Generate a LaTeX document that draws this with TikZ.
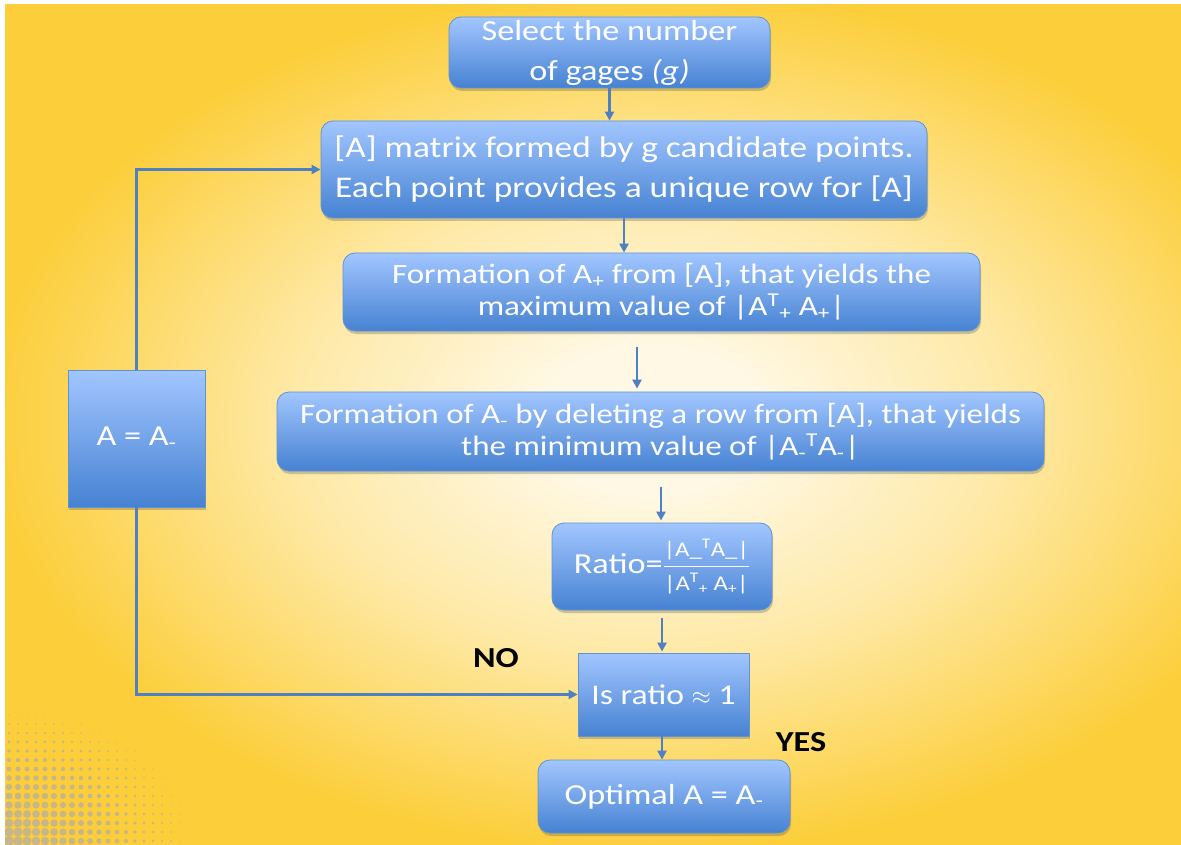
\documentclass[tikz,border=0pt]{standalone}
\usepackage{fontspec}
\usepackage{amsmath}
\setmainfont{Carlito}[FakeStretch=1.18]
\usetikzlibrary{arrows.meta,shadows,calc}
\definecolor{bgin}{HTML}{FFF8E4}
\definecolor{bgmid}{HTML}{FEE9A6}
\definecolor{bgout}{HTML}{FCCE3A}
\definecolor{boxtop}{HTML}{A2C6FF}
\definecolor{boxbot}{HTML}{4682D2}
\definecolor{boxborder}{HTML}{5F92D6}
\definecolor{arrc}{HTML}{4F80C2}
\definecolor{dotc}{HTML}{BFB196}
\pgfdeclareradialshading{bgshade}{\pgfpoint{0bp}{0bp}}{color(0bp)=(bgin); color(4bp)=(bgin); color(13bp)=(bgmid); color(24bp)=(bgout); color(50bp)=(bgout)}
\tikzset{
  box/.style={draw=boxborder, line width=0.8pt, top color=boxtop, bottom color=boxbot,
    text=white, align=center, inner sep=0pt,
    drop shadow={shadow xshift=1pt, shadow yshift=-3pt, opacity=0.28, fill=black!70}},
  rbox/.style={box, rounded corners=12pt},
  arr/.style={draw=arrc, line width=2.6pt, -{Triangle[length=9pt,width=9pt]}},
  lbl/.style={font=\fontsize{29}{34}\selectfont\bfseries, text=black, inner sep=0pt}
}
\begin{document}
\begin{tikzpicture}[x=1pt,y=-1pt]
\useasboundingbox (0,0) rectangle (1181,845);
\fill[white] (0,0) rectangle (1181,845);
\begin{scope}
  \clip (5,5) rectangle (1181,845);
  \shade[shading=bgshade] (-40,-30) rectangle (1340,870);
  \foreach \i in {0,...,22}{
    \foreach \j in {0,...,16}{
      \pgfmathsetmacro{\dd}{sqrt((\i/22)^2+(\j/16)^2)}
      \pgfmathsetmacro{\rr}{5.0*(1-\dd)}
      \ifdim\rr pt>0.5pt
        \fill[dotc, opacity=0.85] (9+9*\i,841-9*\j) circle[radius=\rr];
      \fi
    }
  }
\end{scope}

\node[rbox, minimum width=321pt, minimum height=71pt, font=\fontsize{29}{40}\selectfont] (sel) at (609.5,52.5) {\raisebox{-2pt}{Select the number}\\\raisebox{-2pt}{of gages \textit{(g)}}};
\node[rbox, minimum width=606pt, minimum height=97pt, font=\fontsize{30}{40}\selectfont] (b2) at (624,169.5) {[A] matrix formed by g candidate points.\\Each point provides a unique row for [A]};
\node[rbox, minimum width=637pt, minimum height=78pt, font=\fontsize{28}{32}\selectfont] (b3) at (661.5,292) {Formation of A\textsubscript{+} from [A], that yields the\\maximum value of |A\textsuperscript{T}\textsubscript{+} A\textsubscript{+}|};
\node[rbox, minimum width=767pt, minimum height=79pt, font=\fontsize{28}{32}\selectfont] (b4) at (660.5,431.5) {Formation of A\textsubscript{-} by deleting a row from [A], that yields\\the minimum value of |A\textsubscript{-}\textsuperscript{T}A\textsubscript{-}|};
\node[rbox, minimum width=220pt, minimum height=87pt, font=\fontsize{29}{32}\selectfont] (rat) at (662,566.5) {Ratio=$\dfrac{\text{\fontsize{21}{24}\selectfont|A\_\textsuperscript{T}A\_|}}{\text{\fontsize{21}{24}\selectfont|A\textsuperscript{T}\textsubscript{+} A\textsubscript{+}|}}$};
\node[box, minimum width=171pt, minimum height=83pt, font=\fontsize{28.5}{34}\selectfont] (isr) at (663.5,694.5) {Is ratio \ensuremath{\approx} 1};
\node[rbox, minimum width=252pt, minimum height=73pt, font=\fontsize{29}{34}\selectfont] (opt) at (664,796.5) {Optimal A = A\textsubscript{-}};
\node[box, minimum width=137pt, minimum height=137pt, font=\fontsize{29}{34}\selectfont] (aa) at (136.5,438.5) {A = A\textsubscript{-}};

\node[lbl] (no) at (496,658) {NO};
\node[lbl] (yes) at (801,742) {YES};

\coordinate (k3) at (637,0);
\coordinate (k4) at (661,0);
\coordinate (k5) at (662,0);

\draw[arr] (sel.south) -- (sel.south |- b2.north);
\draw[arr] (b2.south) -- (b2.south |- b3.north);
\draw[arr] ([yshift=-16pt]b3.south -| k3) -- ([yshift=3pt]b4.north -| k3);
\draw[arr] ([yshift=-16pt]b4.south -| k4) -- ([yshift=2pt]rat.north -| k4);
\draw[arr] ([yshift=-8pt]rat.south -| k5) -- ([yshift=1pt]isr.north -| k5);
\draw[arr] (isr.south -| k5) -- (opt.north -| k5);
\draw[arr] (aa.north) |- (b2.west);
\draw[arr] (aa.south) |- (isr.west);
\end{tikzpicture}
\end{document}
